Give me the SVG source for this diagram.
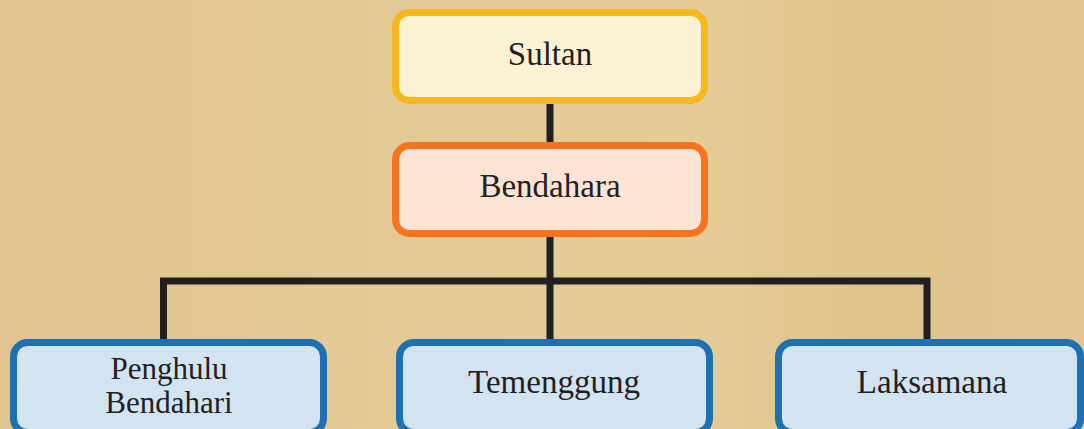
<svg xmlns="http://www.w3.org/2000/svg" width="1084" height="429" viewBox="0 0 1084 429">
<defs>
<linearGradient id="bg" x1="0" y1="0" x2="1" y2="0">
<stop offset="0" stop-color="#E1C48F"/>
<stop offset="0.3" stop-color="#E3C995"/>
<stop offset="0.65" stop-color="#E5CB96"/>
<stop offset="0.8" stop-color="#DFC38C"/>
<stop offset="1" stop-color="#E1C692"/>
</linearGradient>
</defs>
<style>
.box{stroke-width:7}
.gold{fill:#FDF1D3;stroke:#F7B81E}
.orange{fill:#FDE3D3;stroke:#F7731E}
.blue{fill:#D2E3F1;stroke:#1F70B0}
.lbl{font-family:"Liberation Serif","Times New Roman",serif;font-size:33px;fill:#231F20;text-anchor:middle}
.small{font-size:31px}
.con{fill:none;stroke:#231F20;stroke-width:7;stroke-linejoin:miter}
</style>
<rect width="1084" height="429" fill="url(#bg)"/>
<g id="connectors">
<line class="con" x1="550" y1="104" x2="550" y2="142"/>
<line class="con" x1="550" y1="237" x2="550" y2="340"/>
<polyline class="con" points="163.5,340 163.5,281 927,281 927,340"/>
</g>
<g id="sultan">
<rect class="box gold" x="395.5" y="12.5" width="309" height="88" rx="14"/>
<text class="lbl" x="550" y="65">Sultan</text>
</g>
<g id="bendahara">
<rect class="box orange" x="395.5" y="145.5" width="309" height="88" rx="14"/>
<text class="lbl" x="550" y="197">Bendahara</text>
</g>
<g id="penghulu-bendahari">
<rect class="box blue" x="13.5" y="342.5" width="310" height="90" rx="14"/>
<text class="lbl small" x="169" y="379">Penghulu</text>
<text class="lbl small" x="169" y="413">Bendahari</text>
</g>
<g id="temenggung">
<rect class="box blue" x="399.5" y="342.5" width="310" height="90" rx="14"/>
<text class="lbl" x="554" y="393">Temenggung</text>
</g>
<g id="laksamana">
<rect class="box blue" x="778.5" y="342.5" width="302" height="90" rx="14"/>
<text class="lbl" x="932" y="393">Laksamana</text>
</g>
</svg>
